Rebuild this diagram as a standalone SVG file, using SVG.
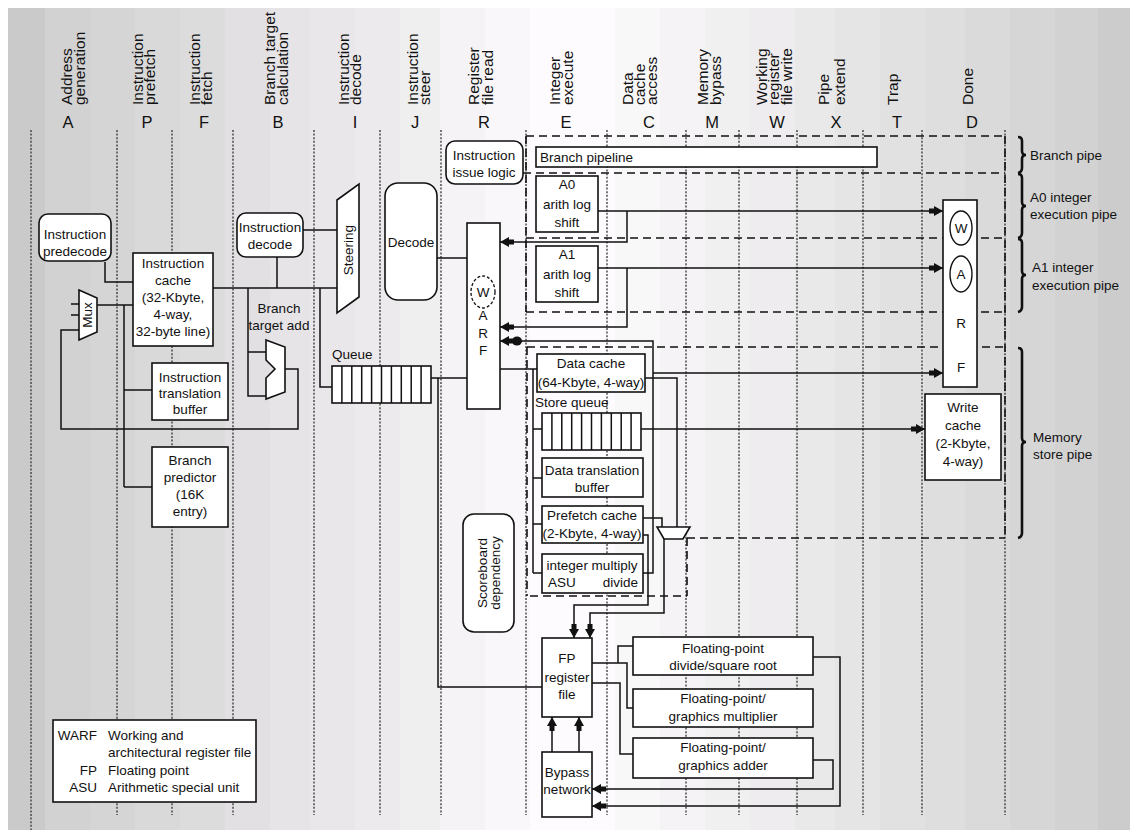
<svg xmlns="http://www.w3.org/2000/svg" width="1130" height="830" viewBox="0 0 1130 830">
<style>
.bx{fill:#fff;stroke:#111;stroke-width:1.6}
.ln{fill:none;stroke:#111;stroke-width:1.5}
.dot{fill:none;stroke:#333;stroke-width:1.3;stroke-dasharray:2 1.6}
.dash{fill:none;stroke:#111;stroke-width:1.6;stroke-dasharray:8 5}
.br{fill:none;stroke:#111;stroke-width:2.6}
text{font-family:"Liberation Sans",Arial,sans-serif;fill:#111}
.t{font-size:13.5px;text-anchor:middle}
.s{font-size:13.5px}
.h{font-size:15.5px}
.L{font-size:16.5px;text-anchor:middle}
</style>
<defs>
<marker id="ah" viewBox="0 0 14 10" refX="14" refY="5" markerWidth="14" markerHeight="10" markerUnits="userSpaceOnUse" orient="auto">
<path d="M0,2.5 H5 V0 L14,5 L5,10 V7.5 H0 Z" fill="#111"/>
</marker>
</defs>
<g id="background">
<rect x="0" y="0" width="1130" height="830" fill="#fff"/>
<rect x="8" y="8" width="37" height="822" fill="#cacaca"/>
<rect x="45" y="8" width="45" height="822" fill="#d2d2d2"/>
<rect x="90" y="8" width="45" height="822" fill="#d5d5d5"/>
<rect x="135" y="8" width="45" height="822" fill="#d9d9d9"/>
<rect x="180" y="8" width="45" height="822" fill="#dcdcdc"/>
<rect x="225" y="8" width="45" height="822" fill="#e2e0e2"/>
<rect x="270" y="8" width="40" height="822" fill="#e6e4e6"/>
<rect x="310" y="8" width="45" height="822" fill="#e9e7e9"/>
<rect x="355" y="8" width="45" height="822" fill="#eceaec"/>
<rect x="400" y="8" width="40" height="822" fill="#efefef"/>
<rect x="440" y="8" width="45" height="822" fill="#f5f3f5"/>
<rect x="485" y="8" width="45" height="822" fill="#faf7fa"/>
<rect x="530" y="8" width="85" height="822" fill="#fefbfe"/>
<rect x="615" y="8" width="45" height="822" fill="#f9f8f9"/>
<rect x="660" y="8" width="45" height="822" fill="#f5f3f5"/>
<rect x="705" y="8" width="45" height="822" fill="#f1f0f1"/>
<rect x="750" y="8" width="45" height="822" fill="#eeecee"/>
<rect x="795" y="8" width="40" height="822" fill="#e9e9e9"/>
<rect x="835" y="8" width="45" height="822" fill="#e5e5e5"/>
<rect x="880" y="8" width="45" height="822" fill="#e1e1e1"/>
<rect x="925" y="8" width="40" height="822" fill="#dedede"/>
<rect x="965" y="8" width="45" height="822" fill="#dadada"/>
<rect x="1010" y="8" width="45" height="822" fill="#d6d6d6"/>
<rect x="1055" y="8" width="43" height="822" fill="#d2d2d2"/>
<rect x="1098" y="8" width="32" height="822" fill="#cccccc"/>
</g>
<g id="stage-lines">
<line class="dot" x1="31" y1="130" x2="31" y2="830"/>
<line class="dot" x1="117" y1="130" x2="117" y2="815"/>
<line class="dot" x1="172" y1="130" x2="172" y2="815"/>
<line class="dot" x1="233" y1="130" x2="233" y2="815"/>
<line class="dot" x1="314" y1="130" x2="314" y2="815"/>
<line class="dot" x1="380" y1="130" x2="380" y2="815"/>
<line class="dot" x1="441" y1="130" x2="441" y2="815"/>
<line class="dot" x1="526" y1="130" x2="526" y2="815"/>
<line class="dot" x1="607" y1="130" x2="607" y2="815"/>
<line class="dot" x1="686" y1="130" x2="686" y2="815"/>
<line class="dot" x1="739" y1="130" x2="739" y2="815"/>
<line class="dot" x1="797" y1="130" x2="797" y2="815"/>
<line class="dot" x1="863" y1="130" x2="863" y2="815"/>
<line class="dot" x1="922" y1="130" x2="922" y2="815"/>
<line class="dot" x1="1005" y1="130" x2="1005" y2="815"/>
</g>
<g id="stage-headers">
<text class="h" transform="rotate(-90 72 105)" x="72" y="105">Address</text>
<text class="h" transform="rotate(-90 85 105)" x="85" y="105">generation</text>
<text class="h" transform="rotate(-90 143 105)" x="143" y="105">Instruction</text>
<text class="h" transform="rotate(-90 155 105)" x="155" y="105">prefetch</text>
<text class="h" transform="rotate(-90 200 105)" x="200" y="105">Instruction</text>
<text class="h" transform="rotate(-90 212 105)" x="212" y="105">fetch</text>
<text class="h" transform="rotate(-90 275 105)" x="275" y="105">Branch target</text>
<text class="h" transform="rotate(-90 288 105)" x="288" y="105">calculation</text>
<text class="h" transform="rotate(-90 349 105)" x="349" y="105">Instruction</text>
<text class="h" transform="rotate(-90 361 105)" x="361" y="105">decode</text>
<text class="h" transform="rotate(-90 418 105)" x="418" y="105">Instruction</text>
<text class="h" transform="rotate(-90 430 105)" x="430" y="105">steer</text>
<text class="h" transform="rotate(-90 479 105)" x="479" y="105">Register</text>
<text class="h" transform="rotate(-90 493 105)" x="493" y="105">file read</text>
<text class="h" transform="rotate(-90 560 105)" x="560" y="105">Integer</text>
<text class="h" transform="rotate(-90 573 105)" x="573" y="105">execute</text>
<text class="h" transform="rotate(-90 633 105)" x="633" y="105">Data</text>
<text class="h" transform="rotate(-90 645 105)" x="645" y="105">cache</text>
<text class="h" transform="rotate(-90 657 105)" x="657" y="105">access</text>
<text class="h" transform="rotate(-90 708 105)" x="708" y="105">Memory</text>
<text class="h" transform="rotate(-90 721 105)" x="721" y="105">bypass</text>
<text class="h" transform="rotate(-90 767 105)" x="767" y="105">Working</text>
<text class="h" transform="rotate(-90 779 105)" x="779" y="105">register</text>
<text class="h" transform="rotate(-90 792 105)" x="792" y="105">file write</text>
<text class="h" transform="rotate(-90 829 105)" x="829" y="105">Pipe</text>
<text class="h" transform="rotate(-90 845 105)" x="845" y="105">extend</text>
<text class="h" transform="rotate(-90 898 105)" x="898" y="105">Trap</text>
<text class="h" transform="rotate(-90 973 105)" x="973" y="105">Done</text>
<text class="L" x="68" y="128">A</text>
<text class="L" x="147" y="128">P</text>
<text class="L" x="204" y="128">F</text>
<text class="L" x="278" y="128">B</text>
<text class="L" x="355" y="128">I</text>
<text class="L" x="415" y="128">J</text>
<text class="L" x="484" y="128">R</text>
<text class="L" x="566" y="128">E</text>
<text class="L" x="649" y="128">C</text>
<text class="L" x="712" y="128">M</text>
<text class="L" x="777" y="128">W</text>
<text class="L" x="836" y="128">X</text>
<text class="L" x="897" y="128">T</text>
<text class="L" x="972" y="128">D</text>
</g>
<g id="pipe-boundaries">
<path class="dash" d="M526,136 H1005 M523,173 H1005 M526,238 H1005 M526,312 H1005 M527,347 H1005 M687,538 H1005 M530,596 H687"/>
<path class="dash" d="M526,136 V312 M527,347 V596 M687,538 V596 M1005,136 V538"/>
</g>
<g id="connectors">
<path class="ln" d="M105,262 V282 H133"/>
<path class="ln" d="M71,304 H80 M71,315 H80"/>
<path class="ln" d="M97,305 H133"/>
<path class="ln" d="M124,305 V487 M124,390 H152 M124,487 H152"/>
<path class="ln" d="M80,330 H61 V429 H298 V369 H285"/>
<path class="ln" d="M213,288 H337"/>
<path class="ln" d="M277,257 V288"/>
<path class="ln" d="M303,230 H337"/>
<path class="ln" d="M248,288 V396 H266 M248,352 H268"/>
<path class="ln" d="M320,288 V387 H332"/>
<path class="ln" d="M431,378 H467"/>
<path class="ln" d="M438,378 V687 H542"/>
<path class="ln" d="M437,258 H467"/>
<path class="ln" d="M598,211 H943" marker-end="url(#ah)"/>
<path class="ln" d="M627,211 V242 H500" marker-end="url(#ah)"/>
<path class="ln" d="M598,268 H943" marker-end="url(#ah)"/>
<path class="ln" d="M627,268 V327 H500" marker-end="url(#ah)"/>
<path class="ln" d="M643,573 H653 V341 H500" marker-end="url(#ah)"/>
<ellipse cx="517" cy="341" rx="5" ry="4.5" fill="#111"/>
<path class="ln" d="M653,373 H943" marker-end="url(#ah)"/>
<path class="ln" d="M500,369 H537"/>
<path class="ln" d="M533,369 V573 M533,429 H542 M533,478 H542 M533,524 H542 M533,573 H542"/>
<path class="ln" d="M641,429 H925" marker-end="url(#ah)"/>
<path class="ln" d="M645,378 H677 V527"/>
<path class="ln" d="M643,518 H662 V527"/>
<path class="ln" d="M643,535 H648 V605 H574 V638" marker-end="url(#ah)"/>
<path class="ln" d="M664,538 V613 H590 V638" marker-end="url(#ah)"/>
<path class="ln" d="M552,752 V717" marker-end="url(#ah)"/>
<path class="ln" d="M579,752 V717" marker-end="url(#ah)"/>
<path class="ln" d="M592,663 H627 V708 H633 M618,663 V646 H633"/>
<path class="ln" d="M592,683 H620 V754 H633"/>
<path class="ln" d="M813,657 H840 V806 H592" marker-end="url(#ah)"/>
<path class="ln" d="M813,760 H833 V789 H592" marker-end="url(#ah)"/>
</g>
<g id="instruction-predecode">
<rect class="bx" x="39" y="214" width="72" height="47" rx="9"/>
<text class="t" x="75" y="239">Instruction</text>
<text class="t" x="75" y="256">predecode</text>
</g>
<g id="mux">
<polygon class="bx" points="79,290 97,298 97,332 79,340"/>
<text class="s" transform="rotate(-90 92 315)" x="92" y="315" text-anchor="middle">Mux</text>
</g>
<g id="instruction-cache">
<rect class="bx" x="133" y="253" width="80" height="93"/>
<text class="t" x="173" y="268">Instruction</text>
<text class="t" x="173" y="285">cache</text>
<text class="t" x="173" y="302">(32-Kbyte,</text>
<text class="t" x="173" y="319">4-way,</text>
<text class="t" x="173" y="336">32-byte line)</text>
</g>
<g id="instruction-translation-buffer">
<rect class="bx" x="152" y="363" width="76" height="57"/>
<text class="t" x="190" y="382">Instruction</text>
<text class="t" x="190" y="398">translation</text>
<text class="t" x="190" y="414">buffer</text>
</g>
<g id="branch-predictor">
<rect class="bx" x="152" y="447" width="76" height="80"/>
<text class="t" x="190" y="465">Branch</text>
<text class="t" x="190" y="482">predictor</text>
<text class="t" x="190" y="499">(16K</text>
<text class="t" x="190" y="516">entry)</text>
</g>
<g id="instruction-decode">
<rect class="bx" x="237" y="213" width="66" height="44" rx="9"/>
<text class="t" x="270" y="232">Instruction</text>
<text class="t" x="270" y="249">decode</text>
</g>
<g id="branch-target-add">
<text class="t" x="279" y="313">Branch</text>
<text class="t" x="279" y="330">target add</text>
<polygon class="bx" points="266,340 285,347 285,392 266,399 266,378 275,369 266,360"/>
</g>
<g id="steering">
<polygon class="bx" points="337,200 359,184 359,297 337,313"/>
<text class="s" transform="rotate(-90 353 250)" x="353" y="250" text-anchor="middle">Steering</text>
</g>
<g id="queue">
<text class="s" x="332" y="359">Queue</text>
<rect class="bx" x="332" y="366" width="99" height="37"/>
<path class="ln" d="M341.9,366 V403 M351.8,366 V403 M361.7,366 V403 M371.6,366 V403 M381.5,366 V403 M391.4,366 V403 M401.3,366 V403 M411.2,366 V403 M421.1,366 V403"/>
</g>
<g id="decode">
<rect class="bx" x="385" y="183" width="52" height="117" rx="13"/>
<text class="t" x="411" y="247">Decode</text>
</g>
<g id="warf">
<rect class="bx" x="467" y="223" width="33" height="186"/>
<ellipse cx="483" cy="292" rx="12" ry="16" fill="#fff" stroke="#111" stroke-width="1.3" stroke-dasharray="3 2"/>
<text class="t" x="483" y="297">W</text>
<text class="t" x="483" y="320">A</text>
<text class="t" x="483" y="338">R</text>
<text class="t" x="483" y="355">F</text>
</g>
<g id="instruction-issue-logic">
<rect class="bx" x="446" y="141" width="77" height="43" rx="9"/>
<text class="t" x="484" y="160">Instruction</text>
<text class="t" x="484" y="177">issue logic</text>
</g>
<g id="branch-pipeline">
<rect class="bx" x="536" y="147" width="341" height="20"/>
<text class="s" x="540" y="162">Branch pipeline</text>
</g>
<g id="a0">
<rect class="bx" x="536" y="176" width="62" height="56"/>
<text class="t" x="567" y="189">A0</text>
<text class="t" x="567" y="209">arith log</text>
<text class="t" x="567" y="227">shift</text>
</g>
<g id="a1">
<rect class="bx" x="536" y="246" width="62" height="56"/>
<text class="t" x="567" y="259">A1</text>
<text class="t" x="567" y="279">arith log</text>
<text class="t" x="567" y="297">shift</text>
</g>
<g id="data-cache">
<rect class="bx" x="537" y="354" width="108" height="38"/>
<text class="t" x="591" y="368">Data cache</text>
<text class="t" x="591" y="387">(64-Kbyte, 4-way)</text>
</g>
<g id="store-queue">
<text class="s" x="535" y="407">Store queue</text>
<rect class="bx" x="542" y="413" width="99" height="37"/>
<path class="ln" d="M551.9,413 V450 M561.8,413 V450 M571.7,413 V450 M581.6,413 V450 M591.5,413 V450 M601.4,413 V450 M611.3,413 V450 M621.2,413 V450 M631.1,413 V450"/>
</g>
<g id="data-translation-buffer">
<rect class="bx" x="542" y="458" width="101" height="39"/>
<text class="t" x="592" y="475">Data translation</text>
<text class="t" x="592" y="492">buffer</text>
</g>
<g id="prefetch-cache">
<rect class="bx" x="542" y="506" width="101" height="37"/>
<text class="t" x="592" y="520">Prefetch cache</text>
<text class="t" x="592" y="538">(2-Kbyte, 4-way)</text>
</g>
<g id="integer-multiply">
<rect class="bx" x="542" y="554" width="101" height="39"/>
<text class="t" x="592" y="570">integer multiply</text>
<text class="s" x="548" y="587">ASU</text>
<text class="s" x="638" y="587" text-anchor="end">divide</text>
</g>
<g id="memory-mux">
<polygon class="bx" points="657,527 690,527 683,539 664,539"/>
</g>
<g id="scoreboard-dependency">
<rect class="bx" x="463" y="514" width="51" height="118" rx="11"/>
<text class="s" transform="rotate(-90 487 573)" x="487" y="573" text-anchor="middle">Scoreboard</text>
<text class="s" transform="rotate(-90 500 573)" x="500" y="573" text-anchor="middle">dependency</text>
</g>
<g id="fp-register-file">
<rect class="bx" x="542" y="638" width="50" height="79"/>
<text class="t" x="567" y="663">FP</text>
<text class="t" x="567" y="682">register</text>
<text class="t" x="567" y="699">file</text>
</g>
<g id="bypass-network">
<rect class="bx" x="542" y="752" width="50" height="65"/>
<text class="t" x="567" y="777">Bypass</text>
<text class="t" x="567" y="794">network</text>
</g>
<g id="fp-divide">
<rect class="bx" x="633" y="637" width="180" height="38"/>
<text class="t" x="723" y="653">Floating-point</text>
<text class="t" x="723" y="670">divide/square root</text>
</g>
<g id="fp-multiplier">
<rect class="bx" x="633" y="689" width="180" height="38"/>
<text class="t" x="723" y="703">Floating-point/</text>
<text class="t" x="723" y="721">graphics multiplier</text>
</g>
<g id="fp-adder">
<rect class="bx" x="633" y="738" width="180" height="40"/>
<text class="t" x="723" y="752">Floating-point/</text>
<text class="t" x="723" y="770">graphics adder</text>
</g>
<g id="done-stage">
<rect class="bx" x="943" y="200" width="34" height="187"/>
<ellipse cx="961" cy="228" rx="11" ry="17" fill="#fff" stroke="#111" stroke-width="1.4"/>
<text class="t" x="961" y="233">W</text>
<ellipse cx="961" cy="274" rx="11" ry="18" fill="#fff" stroke="#111" stroke-width="1.4"/>
<text class="t" x="961" y="279">A</text>
<text class="t" x="961" y="328">R</text>
<text class="t" x="961" y="372">F</text>
</g>
<g id="write-cache">
<rect class="bx" x="925" y="394" width="76" height="86"/>
<text class="t" x="963" y="412">Write</text>
<text class="t" x="963" y="430">cache</text>
<text class="t" x="963" y="448">(2-Kbyte,</text>
<text class="t" x="963" y="466">4-way)</text>
</g>
<g id="pipe-braces">
<path class="br" d="M1018,137 Q1022,137 1022,141 V151 Q1022,155 1026,155 Q1022,155 1022,159 V168 Q1022,172 1018,173"/>
<path class="br" d="M1018,174 Q1022,174 1022,178 V202 Q1022,206 1026,206 Q1022,206 1022,210 V233 Q1022,237 1018,238"/>
<path class="br" d="M1018,239 Q1022,239 1022,243 V271 Q1022,275 1026,275 Q1022,275 1022,279 V307 Q1022,311 1018,312"/>
<path class="br" d="M1018,348 Q1022,348 1022,352 V438 Q1022,442 1026,442 Q1022,442 1022,446 V533 Q1022,537 1018,538"/>
<text class="s" x="1030" y="160">Branch pipe</text>
<text class="s" x="1030" y="202">A0 integer</text>
<text class="s" x="1030" y="219">execution pipe</text>
<text class="s" x="1032" y="272">A1 integer</text>
<text class="s" x="1032" y="290">execution pipe</text>
<text class="s" x="1033" y="442">Memory</text>
<text class="s" x="1033" y="459">store pipe</text>
</g>
<g id="legend">
<rect class="bx" x="53" y="720" width="203" height="82"/>
<text class="s" x="97" y="740" text-anchor="end">WARF</text>
<text class="s" x="108" y="740">Working and</text>
<text class="s" x="108" y="757">architectural register file</text>
<text class="s" x="97" y="775" text-anchor="end">FP</text>
<text class="s" x="108" y="775">Floating point</text>
<text class="s" x="97" y="792" text-anchor="end">ASU</text>
<text class="s" x="108" y="792">Arithmetic special unit</text>
</g>
</svg>
